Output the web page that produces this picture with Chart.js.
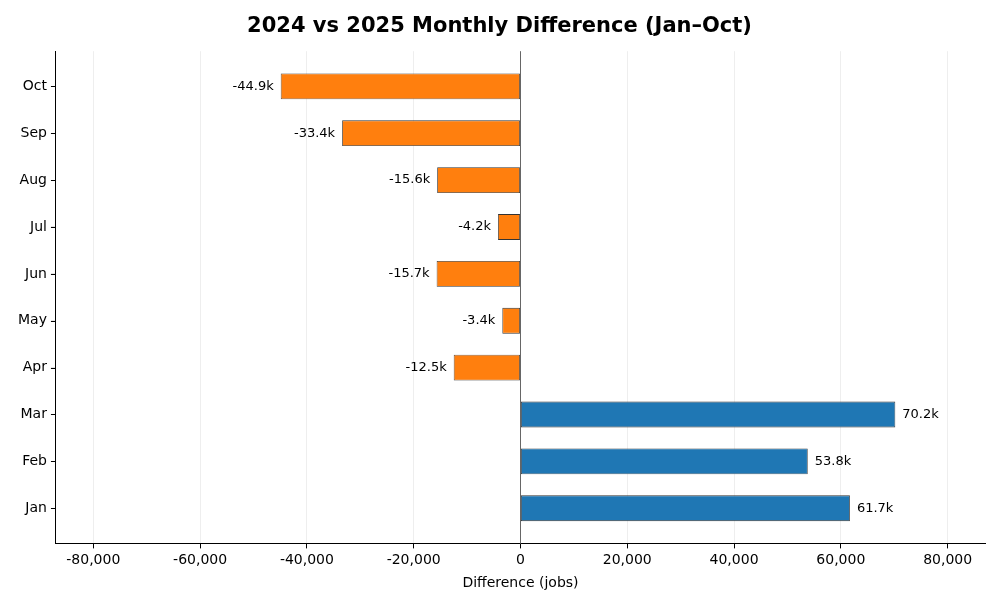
<!DOCTYPE html>
<html>
<head>
<meta charset="utf-8">
<script src="https://cdn.jsdelivr.net/npm/chart.js@4"></script>
<style>
    html, body { margin: 0; padding: 0; background: #fff; }
    #chartContainer { width: 1000px; height: 600px; }
</style>
</head>
<body>
<div id="chartContainer"><canvas id="diffChart"></canvas></div>
<script>
// months from bottom (Jan) to top (Oct)
const months = ['Jan', 'Feb', 'Mar', 'Apr', 'May', 'Jun', 'Jul', 'Aug', 'Sep', 'Oct'];
const differences = [61700, 53800, 70200, -12500, -3400, -15700, -4200, -15600, -33400, -44900];
const xTicks = [-80000, -60000, -40000, -20000, 0, 20000, 40000, 60000, 80000];

const blue = '#1f77b4';
const orange = '#ff7f0e';

Chart.defaults.font.family = '"DejaVu Sans", sans-serif';
Chart.defaults.color = '#000';

// writes the "61.7k" style labels at the end of each bar
const barLabels = {
    id: 'barLabels',
    afterDatasetsDraw(chart) {
        const ctx = chart.ctx;
        const meta = chart.getDatasetMeta(0);
        ctx.save();
        ctx.font = '13px "DejaVu Sans", sans-serif';
        ctx.fillStyle = '#000';
        ctx.textBaseline = 'middle';
        meta.data.forEach((bar, i) => {
            const v = differences[i];
            const text = (v / 1000).toFixed(1) + 'k';
            if (v >= 0) {
                ctx.textAlign = 'left';
                ctx.fillText(text, bar.x + 7, bar.y);
            } else {
                ctx.textAlign = 'right';
                ctx.fillText(text, bar.x - 7, bar.y);
            }
        });
        ctx.restore();
    },
};

// small tick marks left of the y axis (the built-in ones did not show up)
const yTickMarks = {
    id: 'yTickMarks',
    afterDraw(chart) {
        const scale = chart.scales.y;
        const ctx = chart.ctx;
        ctx.save();
        ctx.strokeStyle = '#000';
        ctx.lineWidth = 1;
        scale.ticks.forEach((t) => {
            const y = Math.round(scale.getPixelForValue(t.value)) + 0.5;
            ctx.beginPath();
            ctx.moveTo(scale.right - 5, y);
            ctx.lineTo(scale.right, y);
            ctx.stroke();
        });
        ctx.restore();
    },
};

const ctx = document.getElementById('diffChart');
const myChart = new Chart(ctx, {
    type: 'bar',
    data: {
        datasets: [
            {
                label: 'Difference',
                data: differences.map((v, i) => ({ x: v, y: i })),
                backgroundColor: differences.map((v) => (v >= 0 ? blue : orange)),
                borderColor: '#333',
                borderWidth: 0.8,
                borderSkipped: false,
                barPercentage: 0.55,
                categoryPercentage: 1,
            },
        ],
    },
    plugins: [barLabels, yTickMarks],
    options: {
        indexAxis: 'y',
        responsive: true,
        maintainAspectRatio: false,
        animation: false,
        layout: {
            padding: { left: 14, right: 15, top: 6, bottom: 8 },
        },
        plugins: {
            legend: { display: false },
            tooltip: { enabled: false },
            title: {
                display: true,
                text: '2024 vs 2025 Monthly Difference (Jan–Oct)',
                font: { size: 21, weight: 'bold' },
                color: '#000',
                padding: { top: 8, bottom: 12 },
            },
        },
        scales: {
            x: {
                type: 'linear',
                min: -87000,
                max: 87000,
                afterBuildTicks: (scale) => {
                    scale.ticks = xTicks.map((v) => ({ value: v }));
                },
                ticks: {
                    callback: (v) => v.toLocaleString('en-US'),
                    font: { size: 14 },
                    color: '#000',
                    padding: 4,
                },
                grid: {
                    color: (c) => (c.tick && c.tick.value === 0 ? '#666' : '#eeeeee'),
                    lineWidth: 1,
                    tickColor: '#000',
                    tickWidth: 1,
                    tickLength: 5,
                },
                border: { display: true, color: '#000', width: 1 },
                title: {
                    display: true,
                    text: 'Difference (jobs)',
                    font: { size: 14 },
                    color: '#000',
                    padding: { top: 2, bottom: 0 },
                },
            },
            y: {
                type: 'linear',
                offset: false,
                min: -0.75,
                max: 9.75,
                afterBuildTicks: (scale) => {
                    scale.ticks = months.map((m, i) => ({ value: i }));
                },
                ticks: {
                    callback: (v) => months[v],
                    font: { size: 14 },
                    color: '#000',
                    padding: 4,
                },
                grid: {
                    offset: false,
                    drawOnChartArea: false,
                    drawTicks: true,
                    tickLength: 5,
                },
                border: { display: true, color: '#000', width: 1 },
            },
        },
    },
});
</script>
</body>
</html>
